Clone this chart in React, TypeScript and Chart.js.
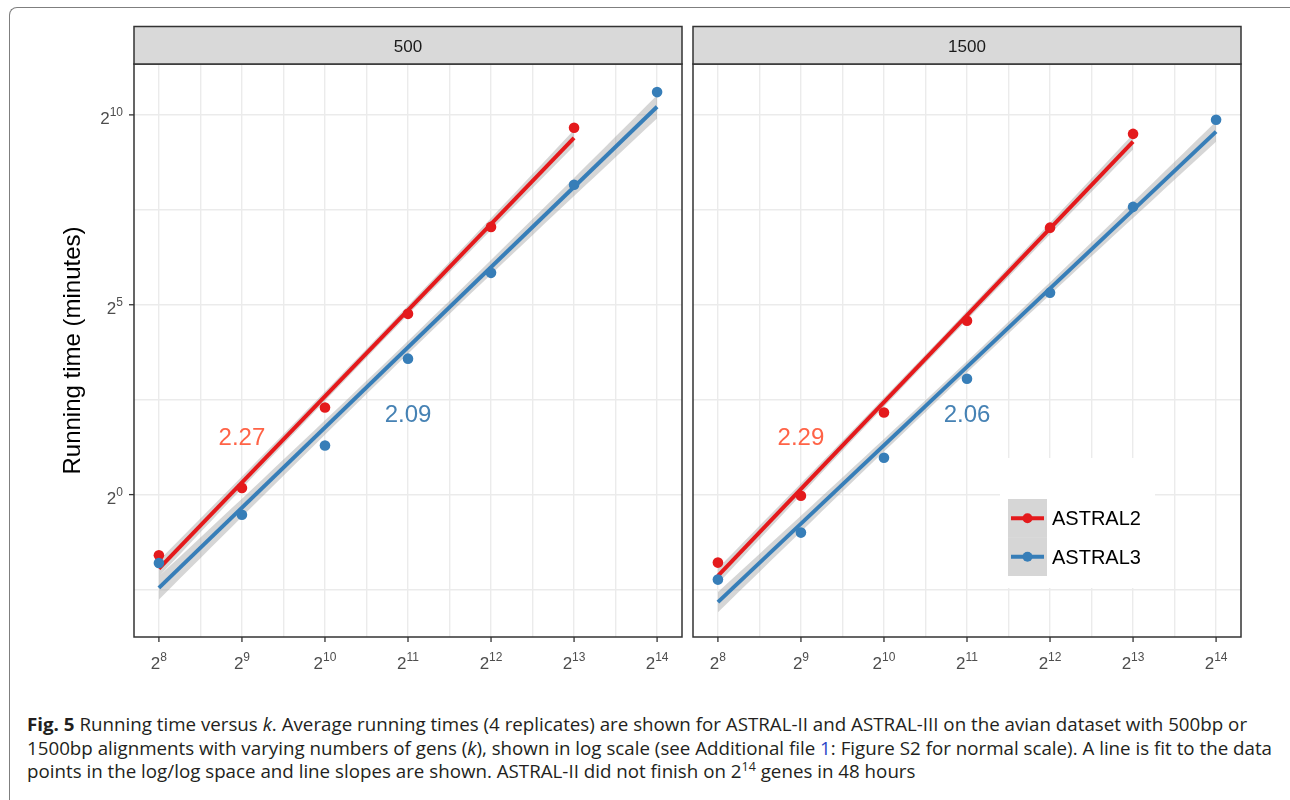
import React, { useEffect, useLayoutEffect, useRef } from 'react';
import { Chart, registerables } from 'chart.js';

Chart.register(...registerables);

// ---------------- data ----------------
const GENES = [256, 512, 1024, 2048, 4096, 8192, 16384];
const SERIES_NAMES = ['ASTRAL2', 'ASTRAL3'];
const PANEL_LABELS = ['500', '1500'];
// average running time in minutes (ASTRAL2 did not finish on 2^14 genes)
const ASTRAL2_500 = [0.33, 1.13, 4.9, 27.1, 132.5, 809];
const ASTRAL3_500 = [0.287, 0.693, 2.45, 11.96, 57.3, 286, 1552];
const ASTRAL2_1500 = [0.289, 0.98, 4.47, 23.9, 130.7, 724];
const ASTRAL3_1500 = [0.212, 0.5, 1.96, 8.28, 39.9, 191, 936];
const SLOPES_500 = ['2.27', '2.09'];
const SLOPES_1500 = ['2.29', '2.06'];
const SLOPE_LABEL_GENES = [512, 2048];
const SLOPE_LABEL_MINUTES = [2.9, 4.4];
const X_TICK_EXP = [8, 9, 10, 11, 12, 13, 14];
const X_MINOR_EXP = [8.5, 9.5, 10.5, 11.5, 12.5, 13.5];
const Y_TICK_EXP = [0, 5, 10];
const Y_MINOR_EXP = [-2.5, 2.5, 7.5];
const X_LIMIT_EXP = [7.7, 14.3];
const Y_LIMIT_EXP = [-3.75, 11.34];
const REPLICATES = 4;

// ---------------- style ----------------
const RED = '#E41A1C';
const BLUE = '#377EB8';
const SERIES_COLORS = [RED, BLUE];
const LABEL_COLORS = ['#FF6347', '#4682B4'];
const BAND = 'rgba(153,153,153,0.4)';
const FONT = '"Liberation Sans", Arial, Helvetica, sans-serif';
const W = 1290;
const CANVAS_H = 680;

const T975: Record<number, number> = { 22: 2.074, 26: 2.056 };

function smooth(times: number[]) {
  const xs = times.map((_, i) => Math.log2(GENES[i]));
  const ys = times.map((t) => Math.log2(t));
  const n = xs.length;
  const mx = xs.reduce((a, b) => a + b, 0) / n;
  const my = ys.reduce((a, b) => a + b, 0) / n;
  let sxx = 0;
  let sxy = 0;
  xs.forEach((x, i) => {
    sxx += (x - mx) ** 2;
    sxy += (x - mx) * (ys[i] - my);
  });
  const slope = sxy / sxx;
  const icpt = my - slope * mx;
  let sse = 0;
  xs.forEach((x, i) => {
    sse += (ys[i] - icpt - slope * x) ** 2;
  });
  const s = Math.sqrt(sse / (n - 2));
  const N = n * REPLICATES;
  const t = T975[N - 2] ?? 2.0;
  const x0 = xs[0];
  const x1 = xs[n - 1];
  const fitLine = [x0, x1].map((x) => ({ x: 2 ** x, y: 2 ** (icpt + slope * x) }));
  const lower: { x: number; y: number }[] = [];
  const upper: { x: number; y: number }[] = [];
  const STEPS = 48;
  for (let k = 0; k <= STEPS; k++) {
    const x = x0 + ((x1 - x0) * k) / STEPS;
    const yh = icpt + slope * x;
    const se = s * Math.sqrt(1 / N + (x - mx) ** 2 / (REPLICATES * sxx));
    lower.push({ x: 2 ** x, y: 2 ** (yh - t * se) });
    upper.push({ x: 2 ** x, y: 2 ** (yh + t * se) });
  }
  return { fitLine, lower, upper };
}

function buildDatasets(a2: number[], a3: number[]) {
  const all = [a2, a3];
  const out: any[] = [];
  all.forEach((times, si) => {
    const f = smooth(times);
    out.push({
      label: SERIES_NAMES[si] + ' lower',
      data: f.lower,
      borderColor: 'transparent',
      backgroundColor: 'transparent',
      borderWidth: 1,
      pointRadius: 0,
      fill: false,
      order: 5 - 2 * si,
    });
    out.push({
      label: SERIES_NAMES[si] + ' band',
      data: f.upper,
      borderColor: 'transparent',
      backgroundColor: BAND,
      borderWidth: 1,
      pointRadius: 0,
      fill: '-1',
      order: 5 - 2 * si,
    });
    out.push({
      label: SERIES_NAMES[si] + ' fit',
      data: f.fitLine,
      borderColor: SERIES_COLORS[si],
      borderWidth: 4,
      borderCapStyle: 'butt',
      pointRadius: 0,
      fill: false,
      order: 4 - 2 * si,
    });
  });
  all.forEach((times, si) => {
    out.push({
      label: SERIES_NAMES[si],
      data: times.map((t, i) => ({ x: GENES[i], y: t })),
      showLine: false,
      pointRadius: 5.3,
      pointBorderWidth: 0,
      pointBackgroundColor: SERIES_COLORS[si],
      borderColor: SERIES_COLORS[si],
      order: 1 - si,
    });
  });
  return out;
}

type PanelCfg = {
  strip: string;
  a2: number[];
  a3: number[];
  slopes: string[];
  padding: { left: number; right: number; top: number; bottom: number };
  yAxis: boolean;
  titles: boolean;
  legend: boolean;
};

function drawPow(ctx: CanvasRenderingContext2D, exp: string, x: number, y: number, align: 'center' | 'right') {
  ctx.font = `17px ${FONT}`;
  const wb = ctx.measureText('2').width;
  ctx.font = `12px ${FONT}`;
  const we = ctx.measureText(exp).width;
  const total = wb + we;
  const x0 = align === 'center' ? x - total / 2 : x - total;
  ctx.textAlign = 'left';
  ctx.textBaseline = 'alphabetic';
  ctx.font = `17px ${FONT}`;
  ctx.fillText('2', x0, y);
  ctx.font = `12px ${FONT}`;
  ctx.fillText(exp, x0 + wb, y - 8);
}

function makeOverlay(cfg: PanelCfg) {
  return {
    id: 'overlay',
    afterDraw(chart: any) {
      const ctx: CanvasRenderingContext2D = chart.ctx;
      const ca = chart.chartArea;
      const xs = chart.scales.x;
      const ys = chart.scales.y;
      ctx.save();

      // slope labels
      ctx.font = `24px ${FONT}`;
      ctx.textAlign = 'center';
      ctx.textBaseline = 'alphabetic';
      cfg.slopes.forEach((txt, i) => {
        const px = xs.getPixelForValue(SLOPE_LABEL_GENES[i]);
        const py = ys.getPixelForValue(SLOPE_LABEL_MINUTES[i]);
        ctx.fillStyle = LABEL_COLORS[i];
        ctx.fillText(txt, px, py + 0.358 * 24);
      });

      // legend
      if (cfg.legend) {
        ctx.fillStyle = '#FFFFFF';
        ctx.fillRect(1000, 458, 155, 130);
        SERIES_NAMES.forEach((name, i) => {
          const top = 499 + i * 38.5;
          const cy = top + 19.25;
          ctx.fillStyle = BAND;
          ctx.fillRect(1008, top, 39, 38.5);
          ctx.strokeStyle = SERIES_COLORS[i];
          ctx.lineWidth = 4;
          ctx.beginPath();
          ctx.moveTo(1011, cy);
          ctx.lineTo(1044, cy);
          ctx.stroke();
          ctx.fillStyle = SERIES_COLORS[i];
          ctx.beginPath();
          ctx.arc(1027.5, cy, 5, 0, Math.PI * 2);
          ctx.fill();
          ctx.fillStyle = '#000000';
          ctx.font = `20px ${FONT}`;
          ctx.textAlign = 'left';
          ctx.textBaseline = 'alphabetic';
          ctx.fillText(name, 1052, cy + 0.358 * 20);
        });
      }

      // panel border
      ctx.strokeStyle = '#333333';
      ctx.lineWidth = 1.5;
      ctx.strokeRect(ca.left, ca.top, ca.right - ca.left, ca.bottom - ca.top);

      // strip
      const stripTop = 26.5;
      ctx.fillStyle = '#D9D9D9';
      ctx.fillRect(ca.left, stripTop, ca.right - ca.left, ca.top - stripTop);
      ctx.strokeRect(ca.left, stripTop, ca.right - ca.left, ca.top - stripTop);
      ctx.fillStyle = '#1A1A1A';
      ctx.font = `17px ${FONT}`;
      ctx.textAlign = 'center';
      ctx.textBaseline = 'alphabetic';
      ctx.fillText(cfg.strip, (ca.left + ca.right) / 2, 52);

      // x ticks
      ctx.strokeStyle = '#333333';
      ctx.lineWidth = 1.3;
      X_TICK_EXP.forEach((e) => {
        const px = xs.getPixelForValue(2 ** e);
        ctx.beginPath();
        ctx.moveTo(px, ca.bottom);
        ctx.lineTo(px, ca.bottom + 5);
        ctx.stroke();
        ctx.fillStyle = '#4D4D4D';
        drawPow(ctx, String(e), px, ca.bottom + 31.5, 'center');
      });

      if (cfg.yAxis) {
        Y_TICK_EXP.forEach((e) => {
          const py = ys.getPixelForValue(2 ** e);
          ctx.strokeStyle = '#333333';
          ctx.beginPath();
          ctx.moveTo(ca.left - 5, py);
          ctx.lineTo(ca.left, py);
          ctx.stroke();
          ctx.fillStyle = '#4D4D4D';
          drawPow(ctx, String(e), ca.left - 11, py + 9, 'right');
        });
      }

      if (cfg.titles) {
        ctx.fillStyle = '#000000';
        ctx.font = `24px ${FONT}`;
        ctx.textAlign = 'center';
        ctx.textBaseline = 'alphabetic';
        ctx.save();
        ctx.translate(80, (ca.top + ca.bottom) / 2);
        ctx.rotate(-Math.PI / 2);
        ctx.fillText('Running time (minutes)', 0, 0);
        ctx.restore();
        ctx.fillText('#Genes', 687.5, 698);
      }
      ctx.restore();
    },
  };
}

function Panel({ cfg }: { cfg: PanelCfg }) {
  const ref = useRef<HTMLCanvasElement>(null);
  useEffect(() => {
    const xTicks = [...X_TICK_EXP, ...X_MINOR_EXP].sort((a, b) => a - b);
    const yTicks = [...Y_TICK_EXP, ...Y_MINOR_EXP].sort((a, b) => a - b);
    const chart = new Chart(ref.current as HTMLCanvasElement, {
      type: 'line',
      data: { datasets: buildDatasets(cfg.a2, cfg.a3) },
      options: {
        animation: false,
        responsive: false,
        devicePixelRatio: 1,
        events: [],
        layout: { padding: cfg.padding },
        plugins: { legend: { display: false }, tooltip: { enabled: false } },
        elements: { line: { tension: 0 } },
        scales: {
          x: {
            type: 'logarithmic',
            min: 2 ** X_LIMIT_EXP[0],
            max: 2 ** X_LIMIT_EXP[1],
            bounds: 'data',
            afterBuildTicks: (s: any) => {
              s.ticks = xTicks.map((e) => ({ value: 2 ** e }));
            },
            ticks: { display: false },
            grid: { color: '#EBEBEB', lineWidth: 1.4, drawTicks: false },
            border: { display: false },
          },
          y: {
            type: 'logarithmic',
            min: 2 ** Y_LIMIT_EXP[0],
            max: 2 ** Y_LIMIT_EXP[1],
            bounds: 'data',
            afterBuildTicks: (s: any) => {
              s.ticks = yTicks.map((e) => ({ value: 2 ** e }));
            },
            ticks: { display: false },
            grid: { color: '#EBEBEB', lineWidth: 1.4, drawTicks: false },
            border: { display: false },
          },
        },
      } as any,
      plugins: [makeOverlay(cfg)],
    });
    return () => chart.destroy();
  }, []);
  return (
    <canvas
      ref={ref}
      width={W}
      height={CANVAS_H}
      style={{ position: 'absolute', left: 0, top: 0, width: W, height: CANVAS_H }}
    />
  );
}

const PANELS: PanelCfg[] = [
  {
    strip: PANEL_LABELS[0],
    a2: ASTRAL2_500,
    a3: ASTRAL3_500,
    slopes: SLOPES_500,
    padding: { left: 134, right: W - 682, top: 64, bottom: CANVAS_H - 637 },
    yAxis: true,
    titles: true,
    legend: false,
  },
  {
    strip: PANEL_LABELS[1],
    a2: ASTRAL2_1500,
    a3: ASTRAL3_1500,
    slopes: SLOPES_1500,
    padding: { left: 693, right: W - 1241, top: 64, bottom: CANVAS_H - 637 },
    yAxis: false,
    titles: false,
    legend: true,
  },
];

// caption: the second (longest) line runs from x=27 to x=1272
const CAPTION_LEFT = 27;
const CAPTION_LINE2_WIDTH = 1245;

export default function App() {
  const lineRefs = useRef<(HTMLSpanElement | null)[]>([]);
  useLayoutEffect(() => {
    const els = lineRefs.current;
    els.forEach((el) => {
      if (el) el.style.transform = 'none';
    });
    const ref = els[1];
    if (!ref) return;
    const w = ref.getBoundingClientRect().width;
    if (w <= 0) return;
    const s = CAPTION_LINE2_WIDTH / w;
    els.forEach((el) => {
      if (el) el.style.transform = `scaleX(${s})`;
    });
  }, []);
  const capStyle: React.CSSProperties = {
    position: 'absolute',
    left: CAPTION_LEFT,
    display: 'inline-block',
    whiteSpace: 'nowrap',
    lineHeight: '18px',
    fontSize: 18,
    transformOrigin: '0 0',
  };
  return (
    <div
      style={{
        position: 'absolute',
        left: 0,
        top: 0,
        width: W,
        height: 800,
        overflow: 'hidden',
        background: '#FFFFFF',
      }}
    >
      <div
        style={{
          position: 'absolute',
          left: 8.5,
          top: 7,
          width: 1400,
          height: 900,
          borderTop: '1.2px solid #7F7F7F',
          borderLeft: '1.2px solid #7F7F7F',
          borderTopLeftRadius: 8,
        }}
      />
      {PANELS.map((p) => (
        <Panel key={p.strip} cfg={p} />
      ))}
      <div style={{ position: 'absolute', left: 0, top: 0, fontFamily: '"Open Sans", sans-serif', color: '#231F20' }}>
        <span ref={(el) => (lineRefs.current[0] = el)} style={{ ...capStyle, top: 715 }}>
          <b>Fig. 5</b> Running time versus <i>k</i>. Average running times (4 replicates) are shown for ASTRAL-II and
          ASTRAL-III on the avian dataset with 500bp or
        </span>
        <span ref={(el) => (lineRefs.current[1] = el)} style={{ ...capStyle, top: 738.5 }}>
          1500bp alignments with varying numbers of gens (<i>k</i>), shown in log scale (see Additional file{' '}
          <span style={{ color: '#2944C8' }}>1</span>: Figure S2 for normal scale). A line is fit to the data
        </span>
        <span ref={(el) => (lineRefs.current[2] = el)} style={{ ...capStyle, top: 762 }}>
          points in the log/log space and line slopes are shown. ASTRAL-II did not finish on 2
          <span style={{ fontSize: 12, position: 'relative', top: -7 }}>14</span> genes in 48 hours
        </span>
      </div>
    </div>
  );
}
